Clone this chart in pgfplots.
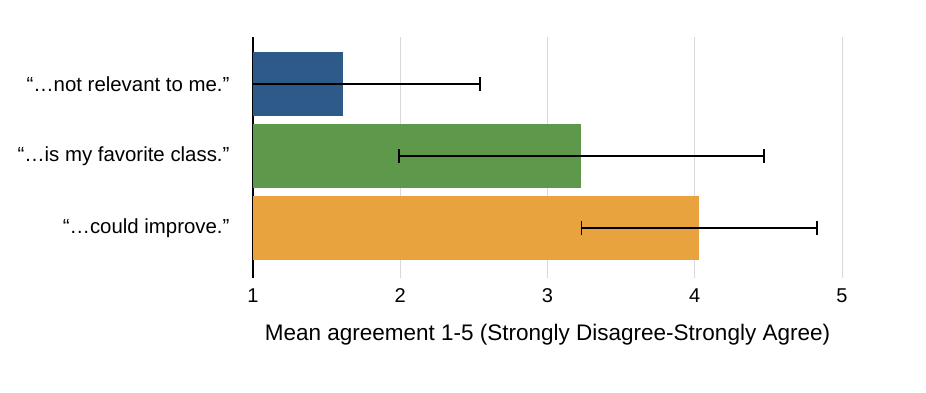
\documentclass[border=0pt]{standalone}
\usepackage{pgfplots}
\pgfplotsset{compat=1.18}
\usepackage{fontspec}
\setmainfont{Liberation Sans}
\definecolor{cblue}{RGB}{46,90,138}
\definecolor{cgreen}{RGB}{94,152,74}
\definecolor{corange}{RGB}{232,163,63}
\begin{document}
\begin{tikzpicture}
\begin{axis}[
  name=ax, at={(0,0)}, anchor=south west,
  scale only axis, width=589pt, height=241pt,
  xmin=1, xmax=5, ymin=-0.694, ymax=2.653,
  axis lines*=left,
  x axis line style={draw=none},
  y axis line style={line width=1.6pt, black},
  xtick={1,2,3,4,5}, ytick={0,1,2},
  yticklabels={“…could improve.”,“…is my favorite class.”,“…not relevant to me.”},
  xmajorgrids, major grid style={gray!30, line width=0.8pt},
  major tick length=0pt,
  /pgf/number format/assume math mode=true,
  xticklabel style={font=\fontsize{20}{22}\selectfont, yshift=-7pt},
  yticklabel style={font=\fontsize{20.4}{22}\selectfont, xshift=-20pt},
  xlabel={Mean agreement 1-5 (Strongly Disagree-Strongly Agree)},
  xlabel style={font=\fontsize{22.5}{24}\selectfont, yshift=-15pt},
  clip=true,
  xbar, bar width=0.889, bar shift=0pt,
]
\pgfplotsset{every axis plot/.append style={
  error bars/x dir=both, error bars/x explicit,
  error bars/error mark=|,
  error bars/error bar style={line width=1.5pt, draw=black},
  error bars/error mark options={line width=1.5pt, draw=black, mark size=7pt}}}
\addplot[fill=cblue, draw=none] coordinates {(1.61,2) +- (0.93,0)};
\addplot[fill=cgreen, draw=none] coordinates {(3.23,1) +- (1.24,0)};
\addplot[fill=corange, draw=none] coordinates {(4.03,0) +- (0.80,0)};
\end{axis}
\pgfresetboundingbox
\path[use as bounding box] (ax.south west) ++(-253pt,-114pt) rectangle ++(926pt,392pt);
\end{tikzpicture}
\end{document}
